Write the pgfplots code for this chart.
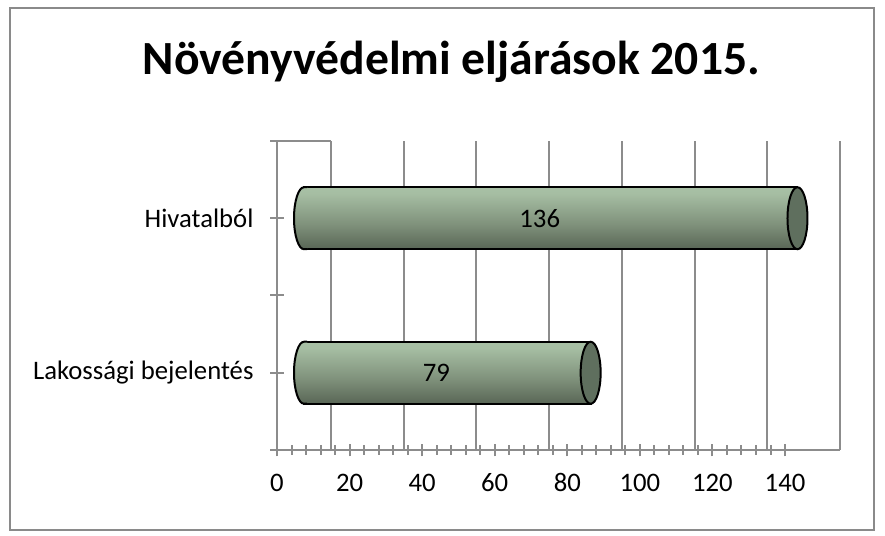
\documentclass[border=0pt]{standalone}
\usepackage{pgfplots}
\pgfplotsset{compat=1.18}
\usepackage{fontspec}
\setmainfont{Carlito}
\definecolor{gridgray}{HTML}{8C8C8C}
\definecolor{framegray}{HTML}{8A8A8A}
\definecolor{cbot}{HTML}{343D33}
\definecolor{cdark}{HTML}{4F5B4C}
\definecolor{cmid}{HTML}{7F917B}
\definecolor{clight}{HTML}{A6BEA3}
\definecolor{clight2}{HTML}{A9C2A7}
\definecolor{ctop}{HTML}{99AE95}
\definecolor{capA}{HTML}{5F6F5E}
\definecolor{capB}{HTML}{5C6585}
\pgfdeclareverticalshading{cyl}{100bp}{color(0bp)=(cbot); color(20bp)=(cdark); color(45bp)=(cmid); color(70bp)=(clight); color(85bp)=(clight2); color(100bp)=(ctop)}
\pgfdeclarehorizontalshading{capsh}{100bp}{color(0bp)=(capA); color(70bp)=(capA); color(100bp)=(capB)}
\pgfdeclareplotmark{rcap}{%
  \pgfpathellipse{\pgfpointorigin}{\pgfqpoint{5bp}{0bp}}{\pgfqpoint{0bp}{15.5bp}}%
  \pgfshadepath{capsh}{0}%
  \pgfusepath{stroke}%
}
\pgfdeclareplotmark{lcap}{%
  \pgfpathmoveto{\pgfqpoint{1.5bp}{15.5bp}}%
  \pgfpathlineto{\pgfqpoint{0bp}{15.5bp}}%
  \pgfpatharc{90}{270}{5bp and 15.5bp}%
  \pgfpathlineto{\pgfqpoint{1.5bp}{-15.5bp}}%
  \pgfshadepath{cyl}{0}%
  \pgfusepath{stroke}%
}
\begin{document}
\begin{tikzpicture}
\useasboundingbox (0,0) rectangle (442.5bp,268bp);
\fill[white] (0,0) rectangle (442.5bp,268bp);
\draw[framegray, line width=0.75bp] (5bp,3bp) rectangle (437bp,264bp);
\node[anchor=base, font=\fontsize{23.9}{28}\selectfont\bfseries] at (225.75bp,230.5bp) {Növényvédelmi eljárások 2015.};
% back wall gridlines
\begin{axis}[
  at={(165.5bp,43bp)}, anchor=south west,
  scale only axis, width=254.5bp, height=154.5bp,
  xmin=0, xmax=140, ymin=0, ymax=1,
  xtick={0,20,...,140}, ytick=\empty, xticklabels={},
  xmajorgrids, major grid style={gridgray, line width=1bp},
  axis line style={draw=none}, tick style={draw=none},
]
\end{axis}
% front axes with ticks and labels
\begin{axis}[
  at={(138.5bp,43bp)}, anchor=south west,
  scale only axis, width=281.5bp, height=154.5bp,
  xmin=0, xmax=155.15, ymin=-0.5, ymax=1.5,
  axis x line*=bottom, axis y line*=left,
  axis line style={-, draw=gridgray, line width=1bp},
  xtick={0,20,...,140}, minor x tick num=4,
  ytick={-0.5,0,0.5,1,1.5},
  yticklabels={,Lakossági bejelentés,,Hivatalból,},
  tick align=center,
  major tick length=6.5bp, minor tick length=5bp,
  tick style={draw=gridgray, line width=1bp},
  minor tick style={draw=gridgray, line width=1bp},
  /pgf/number format/assume math mode=true,
  ticklabel style={font=\fontsize{13.4}{16}\selectfont, text=black},
  xticklabel style={anchor=north, text height=9bp, text depth=0bp, yshift=-5bp},
  yticklabel style={anchor=east, xshift=-5bp},
]
\end{axis}
\draw[gridgray, line width=1bp] (138.5bp,197.5bp) -- (165.5bp,197.5bp);
% bars
\begin{axis}[
  at={(152bp,43bp)}, anchor=south west,
  scale only axis, width=254bp, height=154.5bp,
  xmin=0, xmax=140, ymin=-0.5, ymax=1.5,
  hide axis, clip=false,
]
\addplot[xbar, bar shift=0pt, bar width=31bp, draw=black, line width=1bp, shade, shading=cyl] coordinates {(136,1)};
\addplot[xbar, bar shift=0pt, bar width=31bp, draw=black, line width=1bp, shade, shading=cyl] coordinates {(79,0)};
\addplot[only marks, mark=lcap, draw=black, mark options={line width=1bp, draw=black}] coordinates {(0,1) (0,0)};
\addplot[only marks, mark=rcap, draw=black, mark options={line width=1bp, draw=black}] coordinates {(136,1) (79,0)};
\addplot[draw=none, mark=none, nodes near coords, point meta=explicit symbolic,
  every node near coord/.append style={anchor=center, xshift=-5.5bp, font=\fontsize{13.4}{16}\selectfont, text=black}]
  coordinates {(68,1) [136] (39.5,0) [79]};
\end{axis}
\end{tikzpicture}
\end{document}
